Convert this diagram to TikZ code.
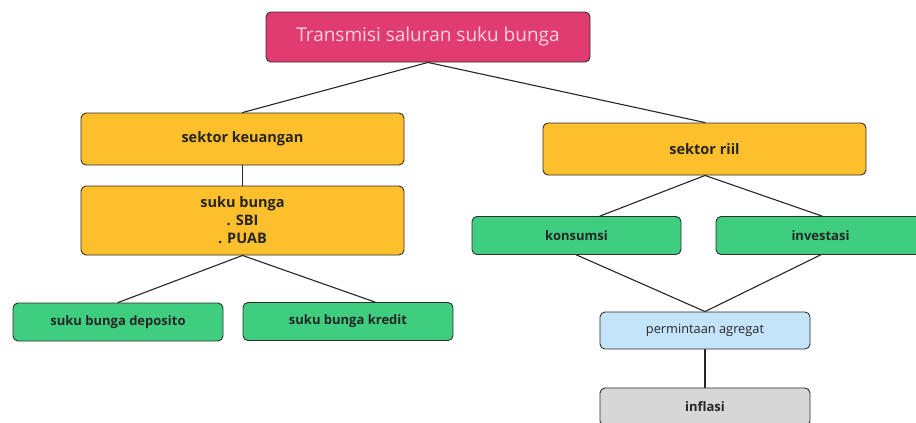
\documentclass[tikz,border=0pt]{standalone}
\usepackage{fontspec}
\setmainfont{Open Sans}
\definecolor{pinkbox}{HTML}{E13C72}
\definecolor{pinktext}{HTML}{FBD3E0}
\definecolor{yellowbox}{HTML}{FDBF2B}
\definecolor{greenbox}{HTML}{3FCD7F}
\definecolor{bluebox}{HTML}{C4E4FA}
\definecolor{graybox}{HTML}{D7D7D7}
\definecolor{edge}{HTML}{2E2E2E}
\tikzset{
	box/.style={draw=edge,line width=0.9pt,rounded corners=5pt,inner sep=0pt,align=center,text=black!85},
	bigbox/.style={box,fill=yellowbox,minimum width=323pt,font=\fontsize{14.5}{18}\selectfont\bfseries},
	smallbox/.style={box,minimum width=210pt,minimum height=38pt,font=\fontsize{13}{15}\selectfont\bfseries},
	link/.style={draw=black!85,line width=1.1pt}
}
\begin{document}
\begin{tikzpicture}[x=1pt,y=-1pt,line join = round, line cap = round]
	\clip (0,0) rectangle (916,423);
	\node[box,fill=pinkbox,text=pinktext,minimum width=324pt,minimum height=50pt,font=\fontsize{19}{22}\selectfont](judul) at (428,37) {Transmisi saluran suku bunga};
	\node[bigbox,minimum height=52pt](keuangan) at (242.5,139) {sektor keuangan};
	\node[bigbox,minimum height=69pt](bunga) at (242.5,220.5) {suku bunga\\. SBI\\. PUAB};
	\node[smallbox,fill=greenbox](deposito) at (118,322) {suku bunga deposito};
	\node[smallbox,fill=greenbox](kredit) at (348,321.5) {suku bunga kredit};
	\node[bigbox,minimum height=52pt](riil) at (704.5,149) {sektor riil};
	\node[smallbox,fill=greenbox,minimum width=209pt](konsumsi) at (576.5,235.5) {konsumsi};
	\node[smallbox,fill=greenbox,minimum width=209pt](investasi) at (820.5,235.5) {investasi};
	\node[smallbox,fill=bluebox,minimum height=37pt,font=\fontsize{12.8}{14}\selectfont](permintaan) at (705,330.5) {permintaan agregat};
	\node[smallbox,fill=graybox](inflasi) at (705,407) {inflasi};
	% garis penghubung
	\draw[link] (keuangan.north)--(judul.south)--([xshift=0.5pt]riil.north);
	\draw[link] (keuangan)--(bunga);
	\draw[link] (deposito.north)--(bunga.south)--([xshift=27pt]kredit.north);
	\draw[link] ([xshift=23.5pt]konsumsi.north)--([xshift=0.5pt]riil.south)--([xshift=1.5pt]investasi.north);
	\draw[link] (konsumsi.south)--(permintaan.north)--(investasi.south);
	\draw[link] (permintaan)--(inflasi);
\end{tikzpicture}
\end{document}
